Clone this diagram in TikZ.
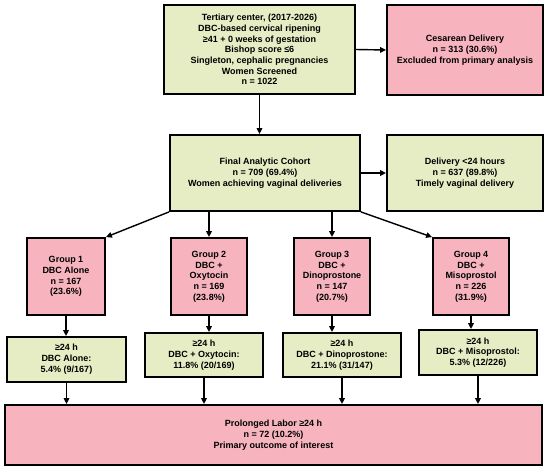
\documentclass[tikz,border=0pt]{standalone}
\usepackage{fontspec}
\setmainfont{Liberation Sans}
\usetikzlibrary{arrows.meta}
\definecolor{gfill}{RGB}{230,237,196}
\definecolor{pfill}{RGB}{247,180,191}
\tikzset{
  box/.style={draw=black, line width=1.8pt, inner sep=2pt, align=center,
    font=\bfseries\fontsize{9}{10.7}\selectfont},
  gbox/.style={box, fill=gfill},
  pbox/.style={box, fill=pfill},
  arr/.style={line width=1.4pt, -{Triangle[length=6pt,width=5.5pt]}}
}
\begin{document}
\begin{tikzpicture}[x=1pt,y=-1pt]
\useasboundingbox (0,0) rectangle (550,472);
\node[gbox, minimum width=191pt, minimum height=89pt] (top) at (259.5,49.5)
  {Tertiary center, (2017-2026)\\DBC-based cervical ripening\\≥41 + 0 weeks of gestation\\Bishop score ≤6\\Singleton, cephalic pregnancies\\Women Screened\\n = 1022};
\node[pbox, minimum width=156pt, minimum height=90pt] (ces) at (465,50)
  {Cesarean Delivery\\n = 313 (30.6\%)\\Excluded from primary analysis};
\node[gbox, minimum width=190pt, minimum height=76pt] (coh) at (265,173)
  {Final Analytic Cohort\\n = 709 (69.4\%)\\Women achieving vaginal deliveries};
\node[gbox, minimum width=156pt, minimum height=76pt] (del) at (465,173)
  {Delivery <24 hours\\n = 637 (89.8\%)\\Timely vaginal delivery};
\node[pbox, minimum width=78pt, minimum height=77pt] (g1) at (66,276.5)
  {Group 1\\DBC Alone\\n = 167\\(23.6\%)};
\node[pbox, minimum width=76pt, minimum height=77pt] (g2) at (209,276.5)
  {Group 2\\DBC +\\Oxytocin\\n = 169\\(23.8\%)};
\node[pbox, minimum width=76pt, minimum height=77pt] (g3) at (332,276.5)
  {Group 3\\DBC +\\Dinoprostone\\n = 147\\(20.7\%)};
\node[pbox, minimum width=76pt, minimum height=77pt] (g4) at (471,276.5)
  {Group 4\\DBC +\\Misoprostol\\n = 226\\(31.9\%)};
\node[gbox, minimum width=119pt, minimum height=45pt] (r1) at (66.5,359.5)
  {\raisebox{4pt}{\begin{tabular}{@{}c@{}}≥24 h\\DBC Alone:\\5.4\% (9/167)\end{tabular}}};
\node[gbox, minimum width=118pt, minimum height=44pt] (r2) at (204,355)
  {≥24 h\\DBC + Oxytocin:\\11.8\% (20/169)};
\node[gbox, minimum width=118pt, minimum height=44pt] (r3) at (342,355)
  {≥24 h\\DBC + Dinoprostone:\\21.1\% (31/147)};
\node[gbox, minimum width=118pt, minimum height=45pt] (r4) at (478,352.5)
  {≥24 h\\DBC + Misoprostol:\\5.3\% (12/226)};
\node[pbox, minimum width=537pt, minimum height=60pt] (bot) at (273.5,435)
  {Prolonged Labor ≥24 h\\n = 72 (10.2\%)\\Primary outcome of interest};
% connectors
\draw[arr] (top.east) -- (ces.west);
\draw[arr] (top.south) -- (top.south |- coh.north);
\draw[arr] (coh.east |- del.west) -- (del.west);
\draw[arr] (coh.south west) -- (g1.north east);
\draw[arr] (g2.north |- coh.south) -- (g2.north);
\draw[arr] (g3.north |- coh.south) -- (g3.north);
\draw[arr] (coh.south east) -- (g4.north west);
\foreach \g/\r in {g1/r1,g2/r2,g3/r3,g4/r4}{
  \draw[arr] (\g.south) -- (\g.south |- \r.north);
}
\foreach \r in {r1,r2,r3,r4}{
  \draw[arr] (\r.south) -- (\r.south |- bot.north);
}
\end{tikzpicture}
\end{document}
